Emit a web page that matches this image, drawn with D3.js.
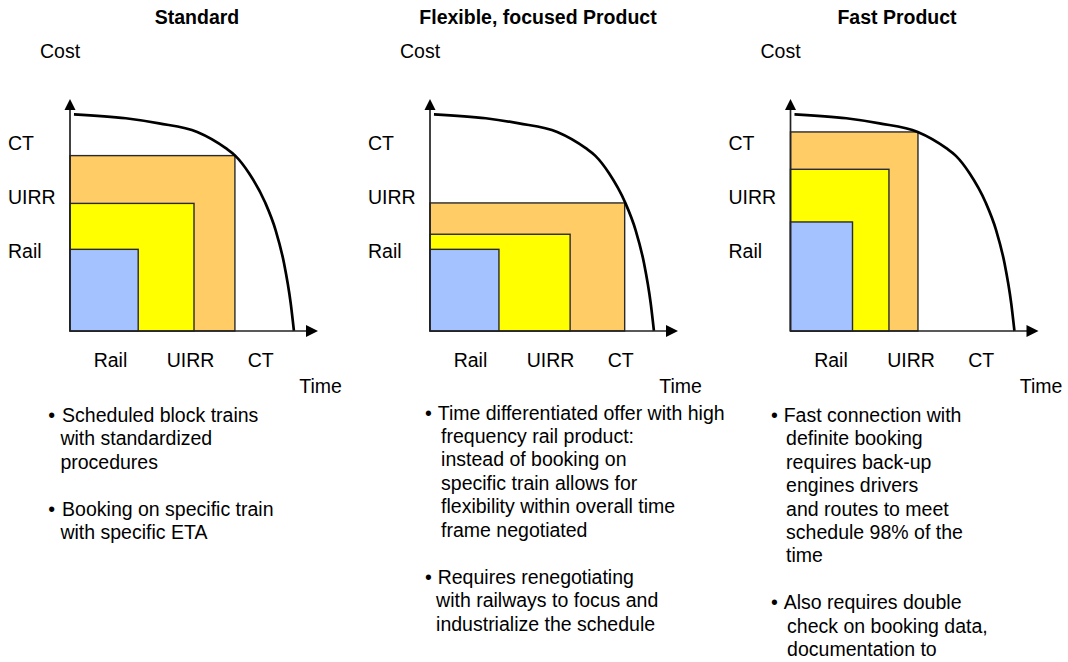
<!DOCTYPE html>
<html>
<head>
<meta charset="utf-8">
<script src="https://cdn.jsdelivr.net/npm/d3@7"></script>
<style>
  html, body { margin: 0; padding: 0; background: #fff; }
  svg { display: block; font-family: "Liberation Sans", Arial, sans-serif; }
</style>
</head>
<body>
<svg id="chart" width="1068" height="662"></svg>
<script>
// Product concepts: cost vs. time trade-off for three transport modes
const panelTitles = ["Standard", "Flexible, focused Product", "Fast Product"];
const modes = ["Rail", "UIRR", "CT"];

// Time / cost reach of each mode (arbitrary 0–100 units), per product
const timeStandard = [27.5, 50, 66.5];
const costStandard = [35.2, 55, 75.6];
const timeFlexible = [27.8, 56.5, 78.5];
const costFlexible = [35.2, 41.7, 55.2];
const timeFast = [25, 39.7, 51.4];
const costFast = [47, 69.7, 85.8];

// Cost/time frontier curve (same in every panel)
const frontierTime = [1.6, 22.5, 35.9, 51.3, 62.8, 66.7, 72.2, 78.6, 82.9, 86.3, 89, 90.3];
const frontierCost = [93.4, 91.7, 89.5, 85.8, 78.8, 75.5, 68, 55.6, 43.5, 29.2, 11.9, 0];

// Axis category labels
const timeTicks = [16.1, 48.4, 76.7];
const costTicks = [34.2, 57.7, 81.1];
const costTickLabels = ["Rail", "UIRR", "CT"];

// Bullet notes below each diagram
const standardNotes = [
  ["Scheduled block trains", "with standardized", "procedures"],
  ["Booking on specific train", "with specific ETA"]
];
const flexibleNotes = [
  ["Time differentiated offer with high", "frequency rail product:", "instead of booking on",
   "specific train allows for", "flexibility within overall time", "frame negotiated"],
  ["Requires renegotiating", "with railways to focus and", "industrialize the schedule"]
];
const fastNotes = [
  ["Fast connection with", "definite booking", "requires back-up", "engines drivers",
   "and routes to meet", "schedule 98% of the", "time"],
  ["Also requires double", "check on booking data,", "documentation to"]
];

const modeColors = { Rail: "#a3c2ff", UIRR: "#ffff00", CT: "#ffcc66" };

const panels = [
  { title: panelTitles[0], time: timeStandard, cost: costStandard, notes: standardNotes,
    ox: 70, titleX: 197, noteTop: 421.7, bulletDx: -20, firstDx: -7.3, contDx: [-9, -9] },
  { title: panelTitles[1], time: timeFlexible, cost: costFlexible, notes: flexibleNotes,
    ox: 430, titleX: 538, noteTop: 419.5, bulletDx: -3.3, firstDx: 8.3, contDx: [11.7, 6.7] },
  { title: panelTitles[2], time: timeFast, cost: costFast, notes: fastNotes,
    ox: 790.5, titleX: 897, noteTop: 421.7, bulletDx: -17.8, firstDx: -6.2, contDx: [-3.8, -2.8] }
];

const svg = d3.select("#chart");
const fontSize = 19.5;
const lineH = 23.45;

// Shared scales in panel-local coordinates
const x = d3.scaleLinear().domain([0, 100]).range([0, 248]);
const y = d3.scaleLinear().domain([0, 100]).range([331, 99]);

const frontier = d3.line()
  .x(d => x(d[0]))
  .y(d => y(d[1]))
  .curve(d3.curveMonotoneX);
const frontierPts = frontierTime.map((t, i) => [t, frontierCost[i]]);

panels.forEach(p => {
  // title
  svg.append("text")
    .attr("x", p.titleX).attr("y", 24)
    .attr("text-anchor", "middle")
    .attr("font-size", fontSize).attr("font-weight", "bold")
    .text(p.title);

  const g = svg.append("g").attr("transform", `translate(${p.ox},0)`);

  // nested mode rectangles, largest first
  const rects = modes.map((m, i) => ({ mode: m, t: p.time[i], c: p.cost[i] })).reverse();
  g.selectAll("rect.mode").data(rects).join("rect")
    .attr("class", "mode")
    .attr("x", x(0))
    .attr("y", d => y(d.c))
    .attr("width", d => x(d.t) - x(0))
    .attr("height", d => y(0) - y(d.c))
    .attr("fill", d => modeColors[d.mode])
    .attr("stroke", "#2a2a2a")
    .attr("stroke-width", 1.4);

  // frontier curve
  g.append("path")
    .attr("d", frontier(frontierPts))
    .attr("fill", "none")
    .attr("stroke", "#000")
    .attr("stroke-width", 2.7);

  // axes with arrowheads
  const ax = "#222";
  g.append("line")
    .attr("x1", x(0)).attr("y1", y(0))
    .attr("x2", x(100) - 10).attr("y2", y(0))
    .attr("stroke", ax).attr("stroke-width", 1.7);
  g.append("line")
    .attr("x1", x(0)).attr("y1", y(0))
    .attr("x2", x(0)).attr("y2", y(100) + 10)
    .attr("stroke", ax).attr("stroke-width", 1.7);
  g.append("path")
    .attr("d", `M${x(100)},${y(0)} L${x(100) - 12},${y(0) - 6} L${x(100) - 12},${y(0) + 6} Z`)
    .attr("fill", "#000");
  g.append("path")
    .attr("d", `M${x(0)},${y(100)} L${x(0) - 5.5},${y(100) + 11} L${x(0) + 5.5},${y(100) + 11} Z`)
    .attr("fill", "#000");

  // category labels on the time axis
  const xAxis = d3.axisBottom(x)
    .tickValues(timeTicks)
    .tickFormat((d, i) => modes[i])
    .tickSize(0).tickPadding(22);
  const xa = g.append("g").attr("transform", `translate(0,${y(0)})`).call(xAxis);
  xa.select(".domain").remove();
  xa.selectAll("text").attr("font-size", fontSize).attr("font-family", null).attr("fill", "#000");

  // category labels on the cost axis (left aligned)
  const yAxis = d3.axisLeft(y)
    .tickValues(costTicks)
    .tickFormat((d, i) => costTickLabels[i])
    .tickSize(0);
  const ya = g.append("g").call(yAxis);
  ya.select(".domain").remove();
  ya.selectAll("text")
    .attr("font-size", fontSize).attr("font-family", null).attr("fill", "#000")
    .attr("text-anchor", "start").attr("x", -62);

  // axis titles
  g.append("text").attr("x", -30).attr("y", 58.3)
    .attr("font-size", fontSize).text("Cost");
  g.append("text").attr("x", 229.3).attr("y", 393.3)
    .attr("font-size", fontSize).text("Time");

  // bullet notes
  let line = 0;
  p.notes.forEach((note, ni) => {
    const by = p.noteTop + line * lineH;
    g.append("text").attr("x", p.bulletDx - 1.8).attr("y", by)
      .attr("font-size", fontSize).text("\u2022");
    note.forEach((txt, li) => {
      g.append("text")
        .attr("x", (li === 0 ? p.firstDx : p.contDx[ni]) - 0.6)
        .attr("y", p.noteTop + (line + li) * lineH)
        .attr("font-size", fontSize)
        .text(txt);
    });
    line += note.length + 1;
  });
});
</script>
</body>
</html>
